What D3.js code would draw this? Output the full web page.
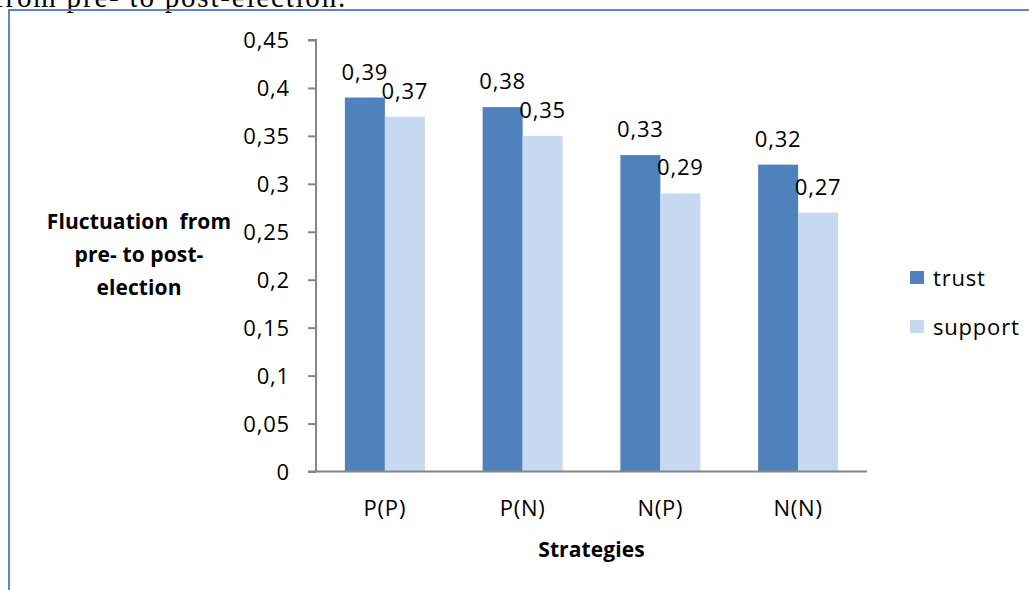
<!DOCTYPE html>
<html>
<head>
<meta charset="utf-8">
<script src="https://cdn.jsdelivr.net/npm/d3@7"></script>
<style>
  html, body { margin: 0; padding: 0; background: #fff; }
  svg { display: block; }
  .lbl { font-family: "Open Sans", sans-serif; font-size: 22px; fill: #000; letter-spacing: 0.8px; }
  .bold { font-family: "Open Sans", sans-serif; font-size: 21px; font-weight: bold; fill: #000; letter-spacing: 0.1px; white-space: pre; }
</style>
</head>
<body>
<script>
// Strategy categories and the two measured series
const categories = ["P(P)", "P(N)", "N(P)", "N(N)"];
const seriesNames = ["trust", "support"];
const trust = [0.39, 0.38, 0.33, 0.32];
const support = [0.37, 0.35, 0.29, 0.27];
const yTicks = [0, 0.05, 0.1, 0.15, 0.2, 0.25, 0.3, 0.35, 0.4, 0.45];
const yTitleLines = ["Fluctuation  from", "pre- to post-", "election"];
const xTitle = "Strategies";
const captionText = "from pre- to post-election.";

const colors = { trust: "#4F81BD", support: "#C6D9F0" };
const values = { trust, support };

const W = 1029, H = 590;
const svg = d3.select("body").append("svg").attr("width", W).attr("height", H);

const fmt = v => String(v).replace(".", ",");

// caption line of the surrounding text, cut off at the top
svg.append("text")
  .attr("x", -6).attr("y", 7)
  .style("font-family", "'Liberation Serif', serif")
  .style("font-size", "29px")
  .style("letter-spacing", "1.8px")
  .text(captionText);

// frame around the chart
svg.append("path")
  .attr("d", "M9,600 L9,10 L1040,10")
  .attr("fill", "none")
  .attr("stroke", "#5B87C5")
  .attr("stroke-width", 2);

const plotLeft = 316, plotRight = 867, plotTop = 40, plotBottom = 471.5;

const y = d3.scaleLinear().domain([0, 0.45]).range([plotBottom, plotTop]);
const x = d3.scaleBand().domain(categories).range([plotLeft, plotRight]).padding(0);
const groupW = 80;
const xs = d3.scaleBand().domain(seriesNames).range([0, groupW]).padding(0);

// y axis
const yAxis = svg.append("g")
  .attr("transform", `translate(${plotLeft},0)`)
  .call(d3.axisLeft(y).tickValues(yTicks).tickSize(8).tickPadding(18).tickFormat(fmt));
yAxis.selectAll("path, line").attr("stroke", "#868686").attr("stroke-width", 2);
yAxis.select("path.domain").attr("d", `M-8,${plotTop}H0V${plotBottom}`);
yAxis.selectAll("text").attr("class", "lbl").attr("font-size", null).attr("font-family", null)
  .attr("dy", "0.36em");

// bars
categories.forEach((c, i) => {
  const gx = x(c) + (x.bandwidth() - groupW) / 2;
  seriesNames.forEach(s => {
    const v = values[s][i];
    svg.append("rect")
      .attr("x", gx + xs(s))
      .attr("y", y(v))
      .attr("width", xs.bandwidth())
      .attr("height", y(0) - y(v))
      .attr("fill", colors[s]);
    svg.append("text")
      .attr("class", "lbl")
      .attr("x", gx + xs(s) + xs.bandwidth() / 2)
      .attr("y", y(v) - 18)
      .attr("text-anchor", "middle")
      .text(fmt(v));
  });
});

// x axis
const xAxis = svg.append("g")
  .attr("transform", `translate(0,${plotBottom})`)
  .call(d3.axisBottom(x).tickSize(0).tickPadding(29));
xAxis.select("path.domain").attr("d", `M${plotLeft - 8},0H${plotRight}`)
  .attr("stroke", "#868686").attr("stroke-width", 2);
xAxis.selectAll("text").attr("class", "lbl").attr("font-size", null).attr("font-family", null);

// axis titles
svg.append("text").attr("class", "bold")
  .attr("x", (plotLeft + plotRight) / 2).attr("y", 557)
  .attr("text-anchor", "middle").text(xTitle);

const yt = svg.append("text").attr("class", "bold").attr("text-anchor", "middle");
yTitleLines.forEach((l, i) => {
  yt.append("tspan").attr("x", 139).attr("y", 229 + i * 33).text(l);
});

// legend
seriesNames.forEach((s, i) => {
  const ly = 278 + i * 49;
  svg.append("rect").attr("x", 910).attr("y", ly - 7).attr("width", 14).attr("height", 13)
    .attr("fill", colors[s]);
  svg.append("text").attr("class", "lbl").attr("x", 933).attr("y", ly).attr("dy", "0.36em").text(s);
});
</script>
</body>
</html>
